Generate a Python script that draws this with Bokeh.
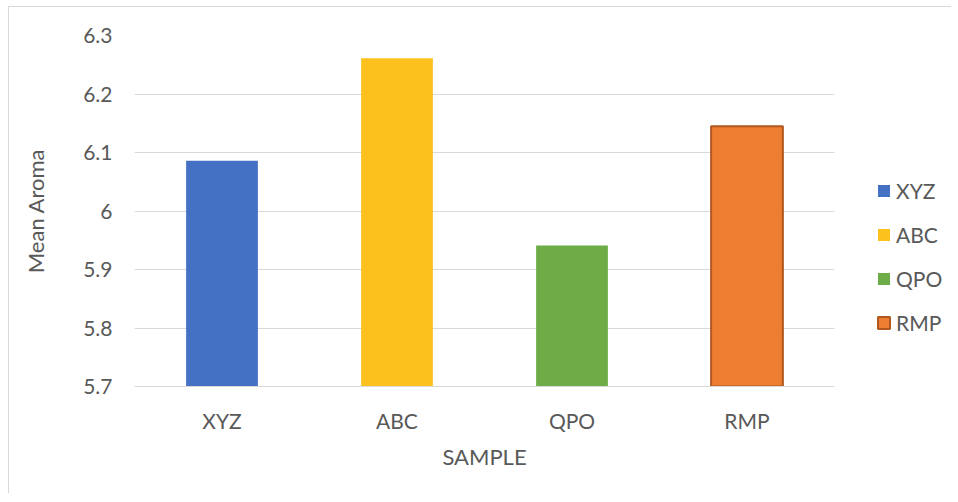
from bokeh.plotting import figure
from bokeh.layouts import row
from bokeh.models import FactorRange, Range1d, FixedTicker, Legend, LegendItem, ColumnDataSource
from bokeh.embed import file_html
from bokeh.resources import INLINE

# ---- data ----
samples = ["XYZ", "ABC", "QPO", "RMP"]
mean_aroma = [6.086, 6.261, 5.941, 6.145]
bar_colors = ["#4571C4", "#FDC11E", "#6EAC47", "#ED7D31"]
bar_line_colors = [None, None, None, "#B0581F"]
y_ticks = [5.7, 5.8, 5.9, 6.0, 6.1, 6.2, 6.3]
y_tick_labels = ["5.7", "5.8", "5.9", "6", "6.1", "6.2", "6.3"]
y_min, y_max = 5.7, 6.3

FONT = "Lato"
TXT = "#595959"
GRID = "#d9d9d9"

p = figure(
    width=835, height=486,
    x_range=FactorRange(*samples, range_padding=0),
    y_range=Range1d(y_min, y_max),
    output_backend="svg", toolbar_location=None,
    min_border_left=125, min_border_right=10,
    min_border_top=28, min_border_bottom=107,
)
p.outline_line_color = None
p.background_fill_color = "white"
p.border_fill_color = "white"

def style_bar(fig, src, c, lc):
    return fig.vbar(x="x", top="top", bottom=y_min, width=0.41, source=src,
                    fill_color=c, line_color=lc if lc else c,
                    line_width=2 if lc else 0, line_alpha=1 if lc else 0)

for s, v, c, lc in zip(samples, mean_aroma, bar_colors, bar_line_colors):
    style_bar(p, ColumnDataSource(dict(x=[s], top=[v])), c, lc)

# axes
p.xgrid.grid_line_color = None
p.ygrid.grid_line_color = GRID
p.ygrid.grid_line_width = 1
p.yaxis.ticker = FixedTicker(ticks=y_ticks)
p.yaxis.major_label_overrides = {t: l for t, l in zip(y_ticks, y_tick_labels)}
p.yaxis.axis_line_color = None
p.yaxis.major_tick_line_color = None
p.yaxis.minor_tick_line_color = None
p.yaxis.major_label_standoff = 16
p.yaxis.axis_label = "Mean Aroma"
p.yaxis.axis_label_standoff = 31

p.xaxis.axis_line_color = GRID
p.xaxis.axis_line_width = 1
p.xaxis.major_tick_line_color = None
p.xaxis.minor_tick_line_color = None
p.xaxis.major_label_standoff = 15
p.xaxis.axis_label = "SAMPLE"
p.xaxis.axis_label_standoff = 7

for ax in (p.xaxis[0], p.yaxis[0]):
    ax.major_label_text_font = FONT
    ax.major_label_text_font_size = "21px"
    ax.major_label_text_color = TXT
    ax.axis_label_text_font = FONT
    ax.axis_label_text_font_size = "22px"
    ax.axis_label_text_font_style = "normal"
    ax.axis_label_text_color = TXT

# ---- legend panel (separate figure to the right; its bars are hidden) ----
lf = figure(
    width=107, height=486,
    x_range=FactorRange(*samples), y_range=Range1d(0, 1),
    x_axis_location=None, y_axis_location=None,
    output_backend="svg", toolbar_location=None,
    min_border=0,
)
lf.outline_line_color = None
lf.xgrid.grid_line_color = None
lf.ygrid.grid_line_color = None
lf.border_fill_color = "white"

legend_renderers = []
for s, v, c, lc in zip(samples, mean_aroma, bar_colors, bar_line_colors):
    r = style_bar(lf, ColumnDataSource(dict(x=[s], top=[v])), c, lc)
    r.visible = False
    legend_renderers.append(r)

legend = Legend(
    items=[LegendItem(label=s, renderers=[r]) for s, r in zip(samples, legend_renderers)],
    location=(32, 51),
    orientation="vertical",
    padding=0, margin=0, spacing=19,
    glyph_width=15, glyph_height=15, label_height=22,
    label_standoff=5,
    label_text_font=FONT, label_text_font_size="21px", label_text_color=TXT,
    border_line_color=None, background_fill_alpha=0,
)
lf.add_layout(legend)

layout = row(p, lf)
layout.styles = {"margin-left": "8px", "margin-top": "6px",
                 "border-top": "1px solid #d9d9d9", "border-left": "1px solid #d9d9d9"}

open("out.html", "w").write(file_html(layout, INLINE))
